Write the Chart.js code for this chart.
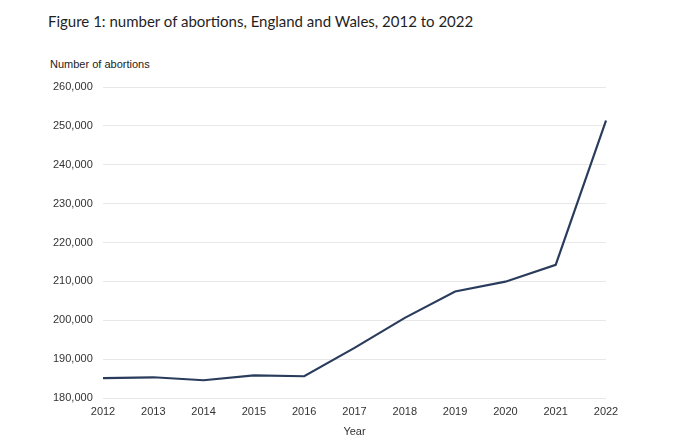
<!DOCTYPE html>
<html>
<head>
<meta charset="utf-8">
<script src="https://cdn.jsdelivr.net/npm/chart.js@4"></script>
<style>
  body { margin: 0; background: #fff; }
  #wrap { position: relative; width: 680px; height: 445px; }
  #title { position: absolute; left: 48px; top: 12px; font: 15px Lato, sans-serif; color: #1f1f1f; white-space: nowrap; }
  #ylabel { position: absolute; left: 50px; top: 58px; font: 11px "Liberation Sans", Arial, sans-serif; color: #222; }
  canvas { position: absolute; left: 0; top: 0; }
</style>
</head>
<body>
<div id="wrap">
  <div id="title">Figure 1: number of abortions, England and Wales, 2012 to 2022</div>
  <div id="ylabel">Number of abortions</div>
  <canvas id="my_line_chart" width="680" height="445"></canvas>
</div>
<script>
// data
const years = ["2012", "2013", "2014", "2015", "2016", "2017", "2018", "2019", "2020", "2021", "2022"];
const abortions = [185122, 185331, 184571, 185824, 185596, 192900, 200608, 207384, 209917, 214256, 251377];
const yTicks = [180000, 190000, 200000, 210000, 220000, 230000, 240000, 250000, 260000];

const line_chart = document.getElementById("my_line_chart");
new Chart(line_chart, {
  type: "line",
  data: {
    labels: years,
    datasets: [
      {
        label: "Number of abortions",
        data: abortions,
        fill: false,
        borderColor: "#2a3c5c",
        borderWidth: 2.2,
        tension: 0,
        pointRadius: 0,
      },
    ],
  },
  options: {
    responsive: false,
    animation: false,
    layout: {
      padding: { left: 53, right: 74, top: 87, bottom: 6 },
    },
    plugins: {
      legend: { display: false },
      tooltip: { enabled: false },
    },
    scales: {
      x: {
        offset: false,
        grid: { display: false, drawTicks: false },
        border: { display: false },
        ticks: {
          color: "#333",
          font: { family: "Liberation Sans", size: 11 },
          padding: 7,
          maxRotation: 0,
        },
        title: {
          display: true,
          text: "Year",
          color: "#333",
          font: { family: "Liberation Sans", size: 11 },
          padding: { top: 2, bottom: 0 },
        },
        afterFit: (scale) => { scale.height = 41; },
      },
      y: {
        min: 180000,
        max: 260000,
        afterBuildTicks: (scale) => {
          scale.ticks = yTicks.map((v) => ({ value: v }));
        },
        grid: { color: "#e8e8e8", drawTicks: false, lineWidth: 1 },
        border: { display: false },
        ticks: {
          color: "#333",
          font: { family: "Liberation Sans", size: 11 },
          crossAlign: "far",
          padding: 20,
          callback: (v) => v.toLocaleString("en-GB"),
        },
        afterFit: (scale) => { scale.width = 50; },
      },
    },
  },
});
</script>
</body>
</html>
